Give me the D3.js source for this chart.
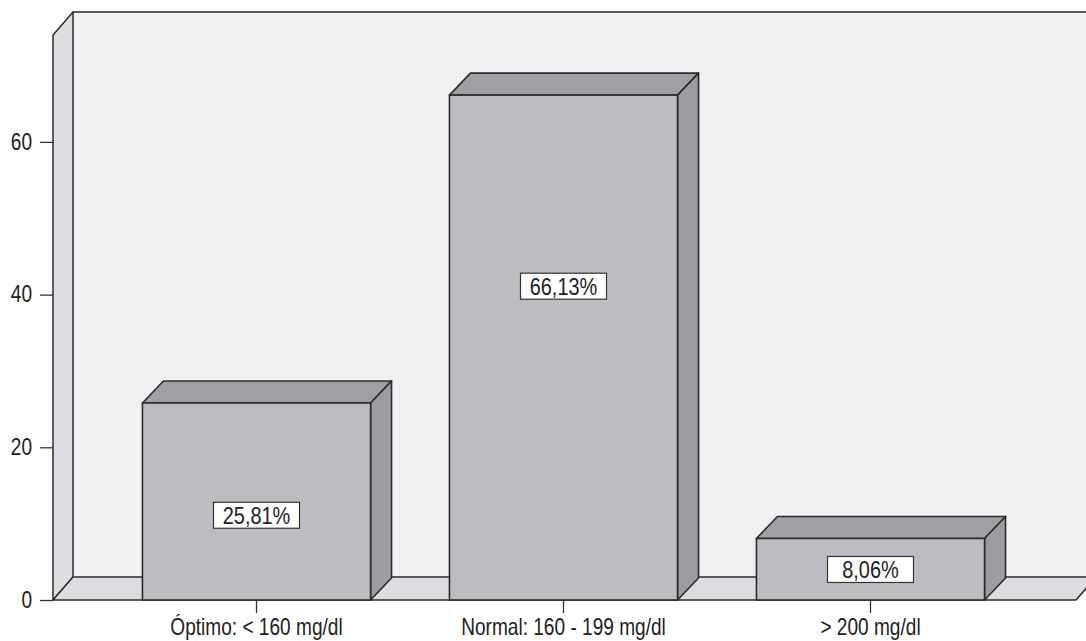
<!DOCTYPE html>
<html>
<head>
<meta charset="utf-8">
<script src="https://cdn.jsdelivr.net/npm/d3@7"></script>
<style>
  html, body { margin: 0; padding: 0; background: #ffffff; }
  svg { display: block; }
  text { font-family: "Liberation Sans", Arial, sans-serif; fill: #222; }
</style>
</head>
<body>
<svg id="chart" width="1086" height="641"></svg>
<script>
// Cholesterol level groups and their share of patients (%)
const categories = ["Óptimo: < 160 mg/dl", "Normal: 160 - 199 mg/dl", "> 200 mg/dl"];
const percentages = [25.81, 66.13, 8.06];
const valueLabels = ["25,81%", "66,13%", "8,06%"];
const yTicks = [0, 20, 40, 60];

const svg = d3.select("#chart");

// Frame of the pseudo-3D box
const x0 = 53, x1 = 1076;       // front edge of the floor
const yBase = 600, yTop = 35;   // value axis extent
const depthX = 20, depthY = 23; // wall depth offset
const barDX = 21, barDY = 22;   // bar depth offset

// Condensed look: regular sans squeezed horizontally
const squeeze = 0.83;

const x = d3.scaleBand()
  .domain(categories)
  .range([103, 1024])
  .paddingInner(0.257)
  .paddingOuter(0.1285);

const y = d3.scaleLinear().domain([0, 74]).range([yBase, yTop]);

// Where each value tag sits inside its bar (in value units)
const labelAnchors = [11.1, 41.1, 4.0];

const pts = a => a.map(p => p.join(",")).join(" ");
const edge = "#2b2b2b";

// Back wall
svg.append("polygon")
  .attr("points", pts([[x0 + depthX, yTop - depthY], [x1 + depthX + 20, yTop - depthY],
                       [x1 + depthX + 20, yBase - depthY], [x0 + depthX, yBase - depthY]]))
  .attr("fill", "#f0f1f3");
svg.append("line")
  .attr("x1", x0 + depthX).attr("x2", 1086)
  .attr("y1", yTop - depthY).attr("y2", yTop - depthY)
  .attr("stroke", "#5e5e5e").attr("stroke-width", 2);

// Left wall
svg.append("polygon")
  .attr("points", pts([[x0, yTop], [x0 + depthX, yTop - depthY],
                       [x0 + depthX, yBase - depthY], [x0, yBase]]))
  .attr("fill", "#dcdde0")
  .attr("stroke", edge).attr("stroke-width", 1.5).attr("stroke-linejoin", "round");

// Floor
svg.append("polygon")
  .attr("points", pts([[x0, yBase], [x0 + depthX, yBase - depthY],
                       [x1 + depthX, yBase - depthY], [x1, yBase]]))
  .attr("fill", "#dcdde0")
  .attr("stroke", edge).attr("stroke-width", 1.5).attr("stroke-linejoin", "round");

// Bars: top, side and front faces
const bars = svg.append("g").selectAll("g")
  .data(categories.map((c, i) => ({ c, v: percentages[i], label: valueLabels[i], anchor: labelAnchors[i] })))
  .join("g");

bars.append("polygon")
  .attr("points", d => {
    const l = x(d.c), r = x(d.c) + x.bandwidth(), t = y(d.v);
    return pts([[l, t], [l + barDX, t - barDY], [r + barDX, t - barDY], [r, t]]);
  })
  .attr("fill", "#9fa0a4").attr("stroke", edge).attr("stroke-width", 1.6).attr("stroke-linejoin", "round");

bars.append("polygon")
  .attr("points", d => {
    const r = x(d.c) + x.bandwidth(), t = y(d.v);
    return pts([[r, t], [r + barDX, t - barDY], [r + barDX, y(0) - barDY], [r, y(0)]]);
  })
  .attr("fill", "#9c9da1").attr("stroke", edge).attr("stroke-width", 1.6).attr("stroke-linejoin", "round");

bars.append("rect")
  .attr("x", d => x(d.c))
  .attr("y", d => y(d.v))
  .attr("width", x.bandwidth())
  .attr("height", d => y(0) - y(d.v))
  .attr("fill", "#bcbdc1").attr("stroke", edge).attr("stroke-width", 1.6);

// Value tags
const tagW = 86, tagH = 26;
bars.append("rect")
  .attr("x", d => x(d.c) + x.bandwidth() / 2 - tagW / 2)
  .attr("y", d => y(d.anchor) - tagH / 2)
  .attr("width", tagW).attr("height", tagH)
  .attr("fill", "#ffffff").attr("stroke", "#333").attr("stroke-width", 1.2);

bars.append("text")
  .attr("transform", `scale(${squeeze},1)`)
  .attr("x", d => (x(d.c) + x.bandwidth() / 2) / squeeze)
  .attr("y", d => y(d.anchor))
  .attr("dy", "0.36em")
  .attr("text-anchor", "middle")
  .style("font-size", "24px")
  .text(d => d.label);

// Value axis
const yAxis = svg.append("g")
  .attr("transform", `translate(${x0},0)`)
  .call(d3.axisLeft(y).tickValues(yTicks).tickSize(13).tickSizeOuter(0).tickPadding(8));
yAxis.select(".domain").remove();
yAxis.selectAll(".tick line").attr("stroke", "#333").attr("stroke-width", 1.3);
yAxis.selectAll(".tick text")
  .attr("transform", `scale(${squeeze},1)`)
  .attr("x", -21 / squeeze)
  .style("font-size", "23px").attr("fill", "#222");

// Category axis
const xAxis = svg.append("g")
  .attr("transform", `translate(0,${yBase})`)
  .call(d3.axisBottom(x).tickSize(13).tickSizeOuter(0).tickPadding(6));
xAxis.select(".domain").remove();
xAxis.selectAll(".tick line").attr("stroke", "#333").attr("stroke-width", 1.3);
xAxis.selectAll(".tick text")
  .attr("transform", `scale(${squeeze},1)`)
  .style("font-size", "23px").attr("fill", "#222");
</script>
</body>
</html>
